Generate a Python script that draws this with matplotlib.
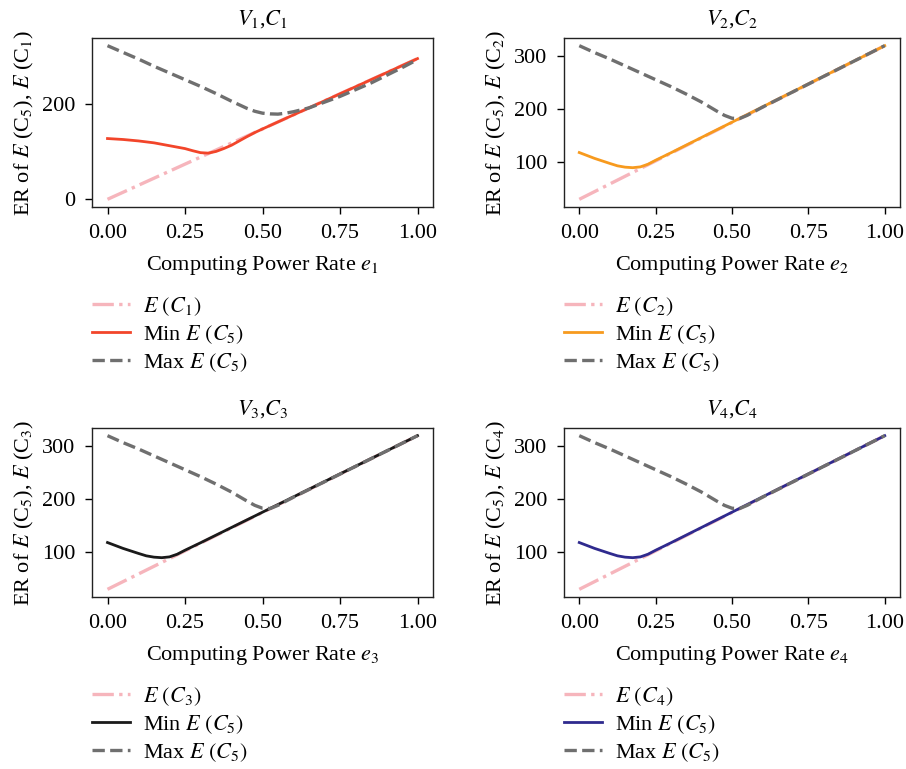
import matplotlib
matplotlib.use("Agg")
import matplotlib.pyplot as plt

# ---------------------------------------------------------------------------
# data
# ---------------------------------------------------------------------------
# straight E(C_k) lines: values at e = 0 and e = 1
e_line = [0.0, 1.0]
e_c1 = [0, 294]
e_c = [30, 319]

# panel 1 (V1, C1)
e_min_1 = [0.00, 0.05, 0.10, 0.15, 0.20, 0.25, 0.275, 0.30, 0.325, 0.35,
           0.375, 0.40, 0.425, 0.45, 0.475, 0.50, 0.75, 1.00]
min_c5_1 = [127, 125, 122, 118, 112, 106, 101.5, 97.5, 96.5, 100,
            106, 113, 122, 131, 139.5, 147, 220.5, 294]
e_max_1 = [0.00, 0.05, 0.10, 0.15, 0.20, 0.25, 0.30, 0.35, 0.40, 0.45,
           0.475, 0.50, 0.525, 0.55, 0.575, 0.60, 0.65, 0.70, 0.75, 0.80,
           0.85, 0.90, 0.95, 1.00]
max_c5_1 = [321, 307, 293, 278, 264, 250, 236, 221, 205, 190,
            184, 180, 178.5, 178, 180, 183, 191, 203, 215, 229,
            243, 259, 275, 292]

# panels 2-4 share the same curves
e_min = [0.00, 0.05, 0.10, 0.125, 0.15, 0.175, 0.20, 0.225, 0.25, 0.275,
         0.30, 1.00]
min_c5 = [118, 107, 97.5, 93, 90.5, 89.5, 91, 96, 103.5, 110.5,
          117.5, 319]
e_max = [0.00, 0.05, 0.10, 0.15, 0.20, 0.25, 0.30, 0.35, 0.40, 0.45,
         0.475, 0.50, 0.525, 0.55, 0.60, 1.00]
max_c5 = [319, 306, 294, 281, 268, 255, 242, 228, 213, 196,
          188, 182.5, 182, 188, 203.4, 319]

panels = [
    (1, e_c1, e_min_1, min_c5_1, e_max_1, max_c5_1, "#f2452a", [0, 200]),
    (2, e_c, e_min, min_c5, e_max, max_c5, "#f79a1e", [100, 200, 300]),
    (3, e_c, e_min, min_c5, e_max, max_c5, "#1a1a1a", [100, 200, 300]),
    (4, e_c, e_min, min_c5, e_max, max_c5, "#2f2a8e", [100, 200, 300]),
]

plt.rcParams["font.family"] = ["Liberation Serif", "DejaVu Serif"]
plt.rcParams["mathtext.fontset"] = "stix"
plt.rcParams["font.size"] = 16

W, H = 906, 769
fig = plt.figure(figsize=(W / 100, H / 100), dpi=100)

# axes boxes in pixels: (left, top, width, height)
boxes = {1: (92, 38, 341, 169), 2: (564, 38, 336, 169),
         3: (92, 428, 341, 169), 4: (564, 428, 336, 169)}

for k, ec, xmn, mn, xmx, mx, col, yt in panels:
    l, t, w, h = boxes[k]
    ax = fig.add_axes([l / W, 1 - (t + h) / H, w / W, h / H])
    ax.plot(e_line, ec, color="#f6b5bc", lw=2.4, ls="-.",
            label=rf"$E\ (C_{k})$")
    ax.plot(xmn, mn, color=col, lw=2, label=r"Min $E\ (C_5)$")
    ax.plot(xmx, mx, color="#6f6f6f", lw=2.4, ls="--",
            label=r"Max $E\ (C_5)$")

    ax.set_xticks([0, 0.25, 0.5, 0.75, 1.0])
    ax.set_xticklabels(["0.00", "0.25", "0.50", "0.75", "1.00"])
    ax.set_yticks(yt)
    ax.tick_params(labelsize=16, width=1, length=5, pad=7)
    for s in ax.spines.values():
        s.set_linewidth(1)
        s.set_color("#222222")

    ax.set_title(rf"$V_{k}$,$C_{k}$", fontsize=16, pad=10)
    ax.set_xlabel(rf"Computing Power Rate $e_{k}$", fontsize=16, labelpad=8)
    ax.set_ylabel(rf"ER of $E$ (C$_5$), $E$ (C$_{k}$)", fontsize=16,
                  labelpad=4)

    ax.legend(loc="upper left", bbox_to_anchor=(0.0, -0.52),
              frameon=False, borderaxespad=0, borderpad=0, fontsize=16,
              handlelength=1.7, handletextpad=0.6, labelspacing=0.25)

fig.savefig("out.png", dpi=100)
